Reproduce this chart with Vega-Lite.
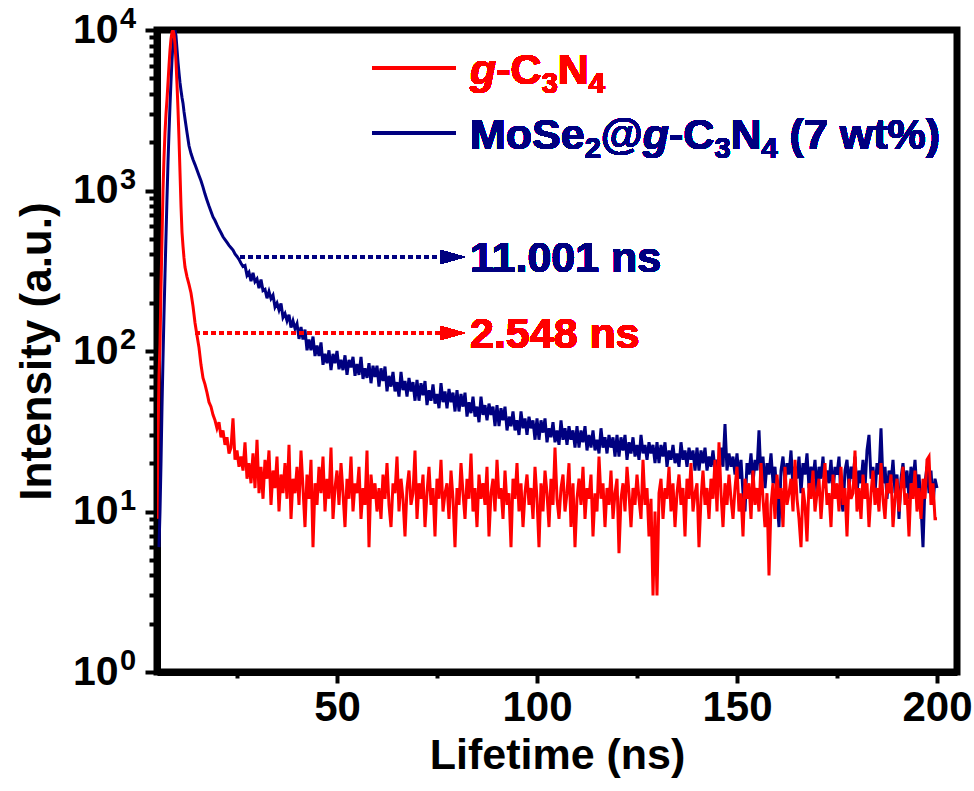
{
"$schema":"https://vega.github.io/schema/vega-lite/v6.json",
"width":800,"height":642,
"autosize":{"type":"none"},
"padding":{"left":157,"top":30,"right":17,"bottom":119},
"background":"white",
"view":{"stroke":"black","strokeWidth":7},
"config":{"font":"Liberation Sans"},
"resolve":{"axis":{"x":"independent","y":"independent"}},
"data":{"values":[
{"t":5,"gcn":9},{"t":5.25,"gcn":30},{"t":5.5,"gcn":70,"mos":6},{"t":5.75,"gcn":110,"mos":10},{"t":6,"gcn":250,"mos":20},{"t":6.25,"gcn":500,"mos":45},{"t":6.5,"gcn":1000,"mos":90},{"t":6.75,"gcn":1600,"mos":170},{"t":7,"gcn":2300,"mos":300},{"t":7.25,"gcn":3000,"mos":520},{"t":7.5,"gcn":3700,"mos":900},{"t":7.75,"gcn":4700,"mos":1500},{"t":8,"gcn":6000,"mos":2300},{"t":8.25,"gcn":7500,"mos":3400},{"t":8.5,"gcn":8800,"mos":4800},{"t":8.75,"gcn":9700,"mos":6500},{"t":9,"gcn":10000,"mos":8300},{"t":9.25,"gcn":9400,"mos":9600},{"t":9.5,"gcn":8200,"mos":10000},{"t":9.75,"gcn":6300,"mos":9200},{"t":10,"gcn":4600,"mos":7600},{"t":10.25,"gcn":3200,"mos":6300},{"t":10.5,"gcn":2100,"mos":5400},{"t":10.75,"gcn":1300,"mos":4700},{"t":11,"gcn":800,"mos":4200},{"t":11.25,"gcn":550,"mos":3800},{"t":11.5,"gcn":450,"mos":3500},{"t":11.75,"gcn":380,"mos":3100},{"t":12,"gcn":333,"mos":2800},
{"t":12.5,"gcn":290,"mos":2300},{"t":13,"gcn":260,"mos":1900},{"t":13.5,"gcn":230,"mos":1700},{"t":14,"gcn":190,"mos":1560},{"t":14.5,"gcn":150,"mos":1450},{"t":15,"gcn":125,"mos":1340},{"t":15.5,"gcn":105,"mos":1240},{"t":16,"gcn":82,"mos":1150},{"t":16.5,"gcn":68,"mos":1050},{"t":17,"gcn":62,"mos":950},{"t":17.5,"gcn":55,"mos":870},{"t":18,"gcn":48,"mos":800},{"t":18.5,"gcn":45,"mos":740},{"t":19,"gcn":40,"mos":684},{"t":19.5,"gcn":37,"mos":650},{"t":20,"gcn":33,"mos":610},{"t":20.5,"gcn":36,"mos":575},{"t":21,"gcn":29,"mos":545},{"t":21.5,"gcn":32,"mos":515},{"t":22,"gcn":26,"mos":495},{"t":22.5,"gcn":29,"mos":475},{"t":23,"gcn":23,"mos":455},{"t":23.5,"gcn":25,"mos":440},{"t":24,"gcn":38,"mos":425},{"t":24.5,"gcn":21,"mos":402},{"t":25,"gcn":24,"mos":388},{"t":25.5,"gcn":19,"mos":372},{"t":26,"gcn":22,"mos":352},
{"t":26.5,"gcn":18,"mos":336},{"t":27,"gcn":27,"mos":341},{"t":27.5,"gcn":16,"mos":296},{"t":28,"gcn":20,"mos":309},{"t":28.5,"gcn":15,"mos":272},{"t":29,"gcn":23,"mos":307},{"t":29.5,"gcn":14,"mos":270},{"t":30,"gcn":28,"mos":281},{"t":30.5,"gcn":13,"mos":246},{"t":31,"gcn":19,"mos":279},{"t":31.5,"gcn":12,"mos":238},{"t":32,"gcn":21,"mos":242},{"t":32.5,"gcn":16,"mos":213},{"t":33,"gcn":24,"mos":235},{"t":33.5,"gcn":11,"mos":212},{"t":34,"gcn":18,"mos":223},{"t":34.5,"gcn":14,"mos":188},{"t":35,"gcn":22,"mos":199},{"t":35.5,"gcn":10,"mos":180},{"t":36,"gcn":17,"mos":198},{"t":36.5,"gcn":13,"mos":162},{"t":37,"gcn":20,"mos":171},{"t":37.5,"gcn":12,"mos":154},{"t":38,"gcn":26,"mos":168},{"t":38.5,"gcn":9,"mos":140},{"t":39,"gcn":16,"mos":154},{"t":39.5,"gcn":13,"mos":138},{"t":40,"gcn":19,"mos":148},
{"t":40.5,"gcn":11,"mos":119},{"t":41,"gcn":24,"mos":141},{"t":41.5,"gcn":14,"mos":118},{"t":42,"gcn":8,"mos":136},{"t":42.5,"gcn":17,"mos":101},{"t":43,"gcn":12,"mos":118},{"t":43.5,"gcn":21,"mos":101},{"t":44,"gcn":6,"mos":123},{"t":44.5,"gcn":15,"mos":93},{"t":45,"gcn":11,"mos":108},{"t":45.5,"gcn":19,"mos":93},{"t":46,"gcn":13,"mos":113},{"t":46.5,"gcn":22,"mos":82},{"t":47,"gcn":10,"mos":96},{"t":47.5,"gcn":16,"mos":84},{"t":48,"gcn":12,"mos":101},{"t":48.5,"gcn":25,"mos":76},{"t":49,"gcn":9,"mos":96},{"t":49.5,"gcn":14,"mos":84},{"t":50,"gcn":18,"mos":100},
{"t":50.5,"gcn":11,"mos":77},{"t":51,"gcn":20,"mos":88},{"t":51.5,"gcn":13,"mos":76},{"t":52,"gcn":8,"mos":94},{"t":52.5,"gcn":16,"mos":71},{"t":53,"gcn":12,"mos":88},{"t":53.5,"gcn":22,"mos":79},{"t":54,"gcn":10,"mos":92},{"t":54.5,"gcn":15,"mos":70},{"t":55,"gcn":13,"mos":83},{"t":55.5,"gcn":19,"mos":71},{"t":56,"gcn":9,"mos":92},{"t":56.5,"gcn":14,"mos":67},{"t":57,"gcn":11,"mos":78},{"t":57.5,"gcn":24,"mos":68},{"t":58,"gcn":6,"mos":84},{"t":58.5,"gcn":17,"mos":63},{"t":59,"gcn":12,"mos":81},{"t":59.5,"gcn":15,"mos":69},{"t":60,"gcn":10,"mos":81},
{"t":60.5,"gcn":14,"mos":60},{"t":61,"gcn":9,"mos":78},{"t":61.5,"gcn":17,"mos":65},{"t":62,"gcn":12,"mos":80},{"t":62.5,"gcn":20,"mos":56},{"t":63,"gcn":11,"mos":70},{"t":63.5,"gcn":8,"mos":60},{"t":64,"gcn":15,"mos":74},{"t":64.5,"gcn":13,"mos":56},{"t":65,"gcn":22,"mos":64},{"t":65.5,"gcn":10,"mos":52},{"t":66,"gcn":16,"mos":74},{"t":66.5,"gcn":12,"mos":57},{"t":67,"gcn":7,"mos":65},{"t":67.5,"gcn":14,"mos":52},{"t":68,"gcn":18,"mos":68},{"t":68.5,"gcn":11,"mos":56},{"t":69,"gcn":13,"mos":64},{"t":69.5,"gcn":24,"mos":49},{"t":70,"gcn":9,"mos":66},
{"t":70.5,"gcn":15,"mos":49},{"t":71,"gcn":12,"mos":63},{"t":71.5,"gcn":17,"mos":53},{"t":72,"gcn":8,"mos":65},{"t":72.5,"gcn":13,"mos":46},{"t":73,"gcn":19,"mos":57},{"t":73.5,"gcn":11,"mos":49},{"t":74,"gcn":14,"mos":62},{"t":74.5,"gcn":7,"mos":47},{"t":75,"gcn":16,"mos":54},{"t":75.5,"gcn":12,"mos":44},{"t":76,"gcn":21,"mos":63},{"t":76.5,"gcn":10,"mos":48},{"t":77,"gcn":13,"mos":56},{"t":77.5,"gcn":15,"mos":44},{"t":78,"gcn":9,"mos":58},{"t":78.5,"gcn":18,"mos":48},{"t":79,"gcn":12,"mos":55},{"t":79.5,"gcn":6,"mos":42},{"t":80,"gcn":14,"mos":57},
{"t":80.5,"gcn":11,"mos":42},{"t":81,"gcn":20,"mos":54},{"t":81.5,"gcn":13,"mos":45},{"t":82,"gcn":9,"mos":55},{"t":82.5,"gcn":16,"mos":39},{"t":83,"gcn":12,"mos":48},{"t":83.5,"gcn":23,"mos":41},{"t":84,"gcn":10,"mos":52},{"t":84.5,"gcn":14,"mos":39},{"t":85,"gcn":8,"mos":45},{"t":85.5,"gcn":17,"mos":36},{"t":86,"gcn":12,"mos":52},{"t":86.5,"gcn":15,"mos":40},{"t":87,"gcn":11,"mos":46},{"t":87.5,"gcn":19,"mos":37},{"t":88,"gcn":7,"mos":47},{"t":88.5,"gcn":13,"mos":40},{"t":89,"gcn":16,"mos":45},{"t":89.5,"gcn":10,"mos":34},{"t":90,"gcn":21,"mos":46},
{"t":90.5,"gcn":12,"mos":34},{"t":91,"gcn":14,"mos":44},{"t":91.5,"gcn":9,"mos":37},{"t":92,"gcn":18,"mos":45},{"t":92.5,"gcn":11,"mos":32},{"t":93,"gcn":13,"mos":39},{"t":93.5,"gcn":6,"mos":34},{"t":94,"gcn":16,"mos":42},{"t":94.5,"gcn":12,"mos":32},{"t":95,"gcn":20,"mos":37},{"t":95.5,"gcn":10,"mos":30},{"t":96,"gcn":15,"mos":42},{"t":96.5,"gcn":8,"mos":33},{"t":97,"gcn":13,"mos":38},{"t":97.5,"gcn":17,"mos":30},{"t":98,"gcn":11,"mos":39},{"t":98.5,"gcn":14,"mos":33},{"t":99,"gcn":9,"mos":37},{"t":99.5,"gcn":19,"mos":28},{"t":100,"gcn":12,"mos":38},
{"t":100.5,"gcn":6,"mos":28},{"t":101,"gcn":15,"mos":37},{"t":101.5,"gcn":10,"mos":31},{"t":102,"gcn":18,"mos":38},{"t":102.5,"gcn":13,"mos":27},{"t":103,"gcn":8,"mos":33},{"t":103.5,"gcn":16,"mos":29},{"t":104,"gcn":11,"mos":36},{"t":104.5,"gcn":25,"mos":27},{"t":105,"gcn":12,"mos":32},{"t":105.5,"gcn":9,"mos":26},{"t":106,"gcn":14,"mos":37},{"t":106.5,"gcn":17,"mos":28},{"t":107,"gcn":10,"mos":33},{"t":107.5,"gcn":13,"mos":26},{"t":108,"gcn":20,"mos":34},{"t":108.5,"gcn":8,"mos":28},{"t":109,"gcn":15,"mos":32},{"t":109.5,"gcn":6,"mos":25},{"t":110,"gcn":12,"mos":34},
{"t":110.5,"gcn":16,"mos":25},{"t":111,"gcn":11,"mos":32},{"t":111.5,"gcn":19,"mos":27},{"t":112,"gcn":9,"mos":34},{"t":112.5,"gcn":14,"mos":24},{"t":113,"gcn":12,"mos":30},{"t":113.5,"gcn":17,"mos":25},{"t":114,"gcn":7,"mos":32},{"t":114.5,"gcn":13,"mos":24},{"t":115,"gcn":10,"mos":28},{"t":115.5,"gcn":22,"mos":23},{"t":116,"gcn":12,"mos":33},{"t":116.5,"gcn":15,"mos":25},{"t":117,"gcn":8,"mos":29},{"t":117.5,"gcn":14,"mos":23},{"t":118,"gcn":11,"mos":30},{"t":118.5,"gcn":18,"mos":25},{"t":119,"gcn":9,"mos":29},{"t":119.5,"gcn":13,"mos":22},{"t":120,"gcn":16,"mos":30},
{"t":120.5,"gcn":5.5,"mos":22},{"t":121,"gcn":12,"mos":29},{"t":121.5,"gcn":15,"mos":24},{"t":122,"gcn":10,"mos":30},{"t":122.5,"gcn":19,"mos":21},{"t":123,"gcn":13,"mos":27},{"t":123.5,"gcn":8,"mos":23},{"t":124,"gcn":14,"mos":29},{"t":124.5,"gcn":11,"mos":22},{"t":125,"gcn":17,"mos":26},{"t":125.5,"gcn":12,"mos":21},{"t":126,"gcn":9,"mos":30},{"t":126.5,"gcn":21,"mos":23},{"t":127,"gcn":11,"mos":26},{"t":127.5,"gcn":14,"mos":21},{"t":128,"gcn":7,"mos":27},{"t":128.5,"gcn":12,"mos":23},{"t":129,"gcn":3,"mos":26},{"t":129.5,"gcn":10,"mos":20},{"t":130,"gcn":3,"mos":27},
{"t":130.5,"gcn":13,"mos":20},{"t":131,"gcn":16,"mos":26},{"t":131.5,"gcn":9,"mos":22},{"t":132,"gcn":14,"mos":27},{"t":132.5,"gcn":12,"mos":19},{"t":133,"gcn":19,"mos":24},{"t":133.5,"gcn":10,"mos":21},{"t":134,"gcn":15,"mos":26},{"t":134.5,"gcn":8,"mos":20},{"t":135,"gcn":13,"mos":23},{"t":135.5,"gcn":17,"mos":19},{"t":136,"gcn":11,"mos":27},{"t":136.5,"gcn":14,"mos":21},{"t":137,"gcn":7,"mos":24},{"t":137.5,"gcn":16,"mos":19},{"t":138,"gcn":12,"mos":25},{"t":138.5,"gcn":20,"mos":21},{"t":139,"gcn":10,"mos":24},{"t":139.5,"gcn":13,"mos":18},{"t":140,"gcn":15,"mos":25},
{"t":140.5,"gcn":6,"mos":18},{"t":141,"gcn":12,"mos":24},{"t":141.5,"gcn":18,"mos":20},{"t":142,"gcn":11,"mos":25},{"t":142.5,"gcn":14,"mos":18},{"t":143,"gcn":9,"mos":22},{"t":143.5,"gcn":16,"mos":19},{"t":144,"gcn":12,"mos":24},{"t":144.5,"gcn":21,"mos":18},{"t":145,"gcn":10,"mos":21},{"t":145.5,"gcn":27,"mos":17},{"t":146,"gcn":13,"mos":25},{"t":146.5,"gcn":8,"mos":19},{"t":147,"gcn":15,"mos":35},{"t":147.5,"gcn":11,"mos":18},{"t":148,"gcn":17,"mos":23},{"t":148.5,"gcn":12,"mos":19},{"t":149,"gcn":9,"mos":22},{"t":149.5,"gcn":14,"mos":17},{"t":150,"gcn":19,"mos":23},
{"t":150.5,"gcn":10,"mos":16},{"t":151,"gcn":13,"mos":21},{"t":151.5,"gcn":7,"mos":13},{"t":152,"gcn":16,"mos":10},{"t":152.5,"gcn":12,"mos":20},{"t":153,"gcn":15,"mos":17},{"t":153.5,"gcn":9,"mos":23},{"t":154,"gcn":18,"mos":15},{"t":154.5,"gcn":11,"mos":21},{"t":155,"gcn":14,"mos":18},{"t":155.5,"gcn":10,"mos":32},{"t":156,"gcn":20,"mos":16},{"t":156.5,"gcn":12,"mos":22},{"t":157,"gcn":8,"mos":14},{"t":157.5,"gcn":13,"mos":20},{"t":158,"gcn":4,"mos":17},{"t":158.5,"gcn":11,"mos":23},{"t":159,"gcn":15,"mos":15},{"t":159.5,"gcn":9,"mos":19},{"t":160,"gcn":17,"mos":12},
{"t":160.5,"gcn":12,"mos":8},{"t":161,"gcn":14,"mos":18},{"t":161.5,"gcn":8,"mos":22},{"t":162,"gcn":19,"mos":15},{"t":162.5,"gcn":11,"mos":20},{"t":163,"gcn":13,"mos":17},{"t":163.5,"gcn":16,"mos":24},{"t":164,"gcn":10,"mos":14},{"t":164.5,"gcn":21,"mos":19},{"t":165,"gcn":12,"mos":16},{"t":165.5,"gcn":9,"mos":22},{"t":166,"gcn":6,"mos":13},{"t":166.5,"gcn":14,"mos":20},{"t":167,"gcn":11,"mos":17},{"t":167.5,"gcn":6.5,"mos":23},{"t":168,"gcn":15,"mos":14},{"t":168.5,"gcn":12,"mos":19},{"t":169,"gcn":18,"mos":16},{"t":169.5,"gcn":10,"mos":21},{"t":170,"gcn":13,"mos":13},
{"t":170.5,"gcn":16,"mos":19},{"t":171,"gcn":9,"mos":16},{"t":171.5,"gcn":14,"mos":22},{"t":172,"gcn":20,"mos":14},{"t":172.5,"gcn":11,"mos":18},{"t":173,"gcn":13,"mos":15},{"t":173.5,"gcn":8,"mos":21},{"t":174,"gcn":17,"mos":13},{"t":174.5,"gcn":12,"mos":19},{"t":175,"gcn":15,"mos":17},{"t":175.5,"gcn":10,"mos":22},{"t":176,"gcn":19,"mos":12},{"t":176.5,"gcn":11,"mos":10},{"t":177,"gcn":14,"mos":18},{"t":177.5,"gcn":7,"mos":21},{"t":178,"gcn":16,"mos":14},{"t":178.5,"gcn":12,"mos":19},{"t":179,"gcn":13,"mos":16},{"t":179.5,"gcn":24,"mos":22},{"t":180,"gcn":10,"mos":13},
{"t":180.5,"gcn":14,"mos":18},{"t":181,"gcn":9,"mos":15},{"t":181.5,"gcn":17,"mos":21},{"t":182,"gcn":12,"mos":14},{"t":182.5,"gcn":15,"mos":24},{"t":183,"gcn":8,"mos":30},{"t":183.5,"gcn":13,"mos":16},{"t":184,"gcn":18,"mos":19},{"t":184.5,"gcn":11,"mos":13},{"t":185,"gcn":14,"mos":20},{"t":185.5,"gcn":10,"mos":17},{"t":186,"gcn":20,"mos":33},{"t":186.5,"gcn":12,"mos":15},{"t":187,"gcn":9,"mos":19},{"t":187.5,"gcn":15,"mos":12},{"t":188,"gcn":13,"mos":18},{"t":188.5,"gcn":17,"mos":15},{"t":189,"gcn":8,"mos":21},{"t":189.5,"gcn":12,"mos":13},{"t":190,"gcn":16,"mos":17},
{"t":190.5,"gcn":10,"mos":9},{"t":191,"gcn":14,"mos":16},{"t":191.5,"gcn":19,"mos":20},{"t":192,"gcn":11,"mos":14},{"t":192.5,"gcn":13,"mos":18},{"t":193,"gcn":7,"mos":12},{"t":193.5,"gcn":15,"mos":19},{"t":194,"gcn":12,"mos":15},{"t":194.5,"gcn":18,"mos":21},{"t":195,"gcn":10,"mos":13},{"t":195.5,"gcn":14,"mos":17},{"t":196,"gcn":9,"mos":11},{"t":196.5,"gcn":16,"mos":6},{"t":197,"gcn":12,"mos":15},{"t":197.5,"gcn":21,"mos":19},{"t":198,"gcn":22,"mos":13},{"t":198.5,"gcn":11,"mos":18},{"t":199,"gcn":15,"mos":11},{"t":199.5,"gcn":9,"mos":16},{"t":200,"gcn":9,"mos":14}
]},
"layer":[
{"mark":{"type":"line","color":"#000080","strokeWidth":3,"clip":true},
 "encoding":{
  "x":{"field":"t","type":"quantitative","scale":{"domain":[5,205],"nice":false,"zero":false},
   "axis":{"orient":"bottom","values":[50,100,150,200],"tickSize":11,"tickWidth":4,"tickColor":"black",
    "domainColor":"black","domainWidth":7,"grid":false,"labelFont":"Liberation Sans","labelFontWeight":"bold","labelFontSize":42,"labelColor":"black","labelPadding":4,"labelFlush":false,"labelOverlap":false,
    "title":"Lifetime (ns)","titleFont":"Liberation Sans","titleFontWeight":"bold","titleFontSize":43,"titleColor":"black","titlePadding":6}},
  "y":{"field":"mos","type":"quantitative","scale":{"type":"log","domain":[1,10000],"nice":false},
   "axis":{"orient":"left","values":[1,10,100,1000,10000],"labelExpr":"'10'","tickSize":12,"tickWidth":4,"tickColor":"black",
    "domainColor":"black","domainWidth":7,"grid":false,"labelFont":"Liberation Sans","labelFontWeight":"bold","labelFontSize":41,"labelColor":"black","labelPadding":27,"labelOverlap":false,"labelBound":false,"labelFlush":false,
    "title":"Intensity (a.u.)","titleFont":"Liberation Sans","titleFontWeight":"bold","titleFontSize":44,"titleColor":"black","titlePadding":13}}
 }},
{"mark":{"type":"line","color":"#ff0000","strokeWidth":3,"clip":true},
 "encoding":{
  "x":{"field":"t","type":"quantitative","axis":{"orient":"bottom","values":[25,75,125,175],"tickSize":6,"tickWidth":4,"tickColor":"black","domain":false,"labels":false,"grid":false,"title":null}},
  "y":{"field":"gcn","type":"quantitative","axis":{"orient":"left","values":[2,3,4,5,6,7,8,9,20,30,40,50,60,70,80,90,200,300,400,500,600,700,800,900,2000,3000,4000,5000,6000,7000,8000,9000],"tickSize":8,"tickWidth":4,"tickColor":"black","domain":false,"labels":false,"grid":false,"title":null}}}},
{"data":{"values":[{"v":1,"e":"0"},{"v":10,"e":"1"},{"v":100,"e":"2"},{"v":1000,"e":"3"},{"v":10000,"e":"4"}]},
 "mark":{"type":"text","font":"Liberation Sans","fontWeight":"bold","fontSize":29,"color":"black","align":"left","baseline":"alphabetic","dx":-37,"dy":-2,"clip":false},
 "encoding":{"x":{"datum":5,"axis":null},"y":{"field":"v","type":"quantitative","axis":null},"text":{"field":"e"}}},
{"mark":{"type":"rule","color":"#ff0000","strokeWidth":3.5},
 "encoding":{"x":{"datum":58.75,"axis":null},"x2":{"datum":79.75},"y":{"datum":5797,"axis":null}}},
{"mark":{"type":"rule","color":"#000080","strokeWidth":3.5},
 "encoding":{"x":{"datum":58.75,"axis":null},"x2":{"datum":79.75},"y":{"datum":2282,"axis":null}}},
{"mark":{"type":"rule","color":"#000080","strokeWidth":4,"strokeDash":[5,3]},
 "encoding":{"x":{"datum":25.75,"axis":null},"x2":{"datum":75.75},"y":{"datum":385.5,"axis":null}}},
{"mark":{"type":"rule","color":"#ff0000","strokeWidth":4,"strokeDash":[5,3]},
 "encoding":{"x":{"datum":14.5,"axis":null},"x2":{"datum":75.75},"y":{"datum":129.5,"axis":null}}},
{"mark":{"type":"point","shape":"M -1 -0.56 L 1 0 L -1 0.56 Z","size":625,"filled":true,"opacity":1,"color":"#000080"},
 "encoding":{"x":{"datum":78.9,"axis":null},"y":{"datum":385.5,"axis":null}}},
{"mark":{"type":"point","shape":"M -1 -0.56 L 1 0 L -1 0.56 Z","size":625,"filled":true,"opacity":1,"color":"#ff0000"},
 "encoding":{"x":{"datum":78.9,"axis":null},"y":{"datum":129.5,"axis":null}}},
{"mark":{"type":"text","text":"11.001 ns","font":"Liberation Sans","fontWeight":"bold","fontSize":43,"color":"#000080","align":"left","baseline":"alphabetic"},
 "encoding":{"x":{"datum":83.25,"axis":null},"y":{"datum":310.6,"axis":null}}},
{"mark":{"type":"text","text":"2.548 ns","font":"Liberation Sans","fontWeight":"bold","fontSize":43,"color":"#ff0000","align":"left","baseline":"alphabetic"},
 "encoding":{"x":{"datum":83.25,"axis":null},"y":{"datum":104.4,"axis":null}}},
{"mark":{"type":"text","text":"g","font":"Liberation Sans","fontWeight":"bold","fontStyle":"italic","fontSize":43,"color":"#ff0000","align":"left","baseline":"alphabetic","dx":0},
 "encoding":{"x":{"datum":83.25,"axis":null},"y":{"datum":4610,"axis":null}}},
{"mark":{"type":"text","text":"-C","font":"Liberation Sans","fontWeight":"bold","fontSize":43,"color":"#ff0000","align":"left","baseline":"alphabetic","dx":26.3},
 "encoding":{"x":{"datum":83.25,"axis":null},"y":{"datum":4610,"axis":null}}},
{"mark":{"type":"text","text":"3","font":"Liberation Sans","fontWeight":"bold","fontSize":29,"color":"#ff0000","align":"left","baseline":"alphabetic","dx":71.7,"dy":9},
 "encoding":{"x":{"datum":83.25,"axis":null},"y":{"datum":4610,"axis":null}}},
{"mark":{"type":"text","text":"N","font":"Liberation Sans","fontWeight":"bold","fontSize":43,"color":"#ff0000","align":"left","baseline":"alphabetic","dx":87.8},
 "encoding":{"x":{"datum":83.25,"axis":null},"y":{"datum":4610,"axis":null}}},
{"mark":{"type":"text","text":"4","font":"Liberation Sans","fontWeight":"bold","fontSize":29,"color":"#ff0000","align":"left","baseline":"alphabetic","dx":118.8,"dy":9},
 "encoding":{"x":{"datum":83.25,"axis":null},"y":{"datum":4610,"axis":null}}},
{"mark":{"type":"text","text":"MoSe","font":"Liberation Sans","fontWeight":"bold","fontSize":43,"color":"#000080","align":"left","baseline":"alphabetic","dx":0},
 "encoding":{"x":{"datum":83.25,"axis":null},"y":{"datum":1814,"axis":null}}},
{"mark":{"type":"text","text":"2","font":"Liberation Sans","fontWeight":"bold","fontSize":29,"color":"#000080","align":"left","baseline":"alphabetic","dx":114.7,"dy":9},
 "encoding":{"x":{"datum":83.25,"axis":null},"y":{"datum":1814,"axis":null}}},
{"mark":{"type":"text","text":"@","font":"Liberation Sans","fontWeight":"bold","fontSize":43,"color":"#000080","align":"left","baseline":"alphabetic","dx":130.8},
 "encoding":{"x":{"datum":83.25,"axis":null},"y":{"datum":1814,"axis":null}}},
{"mark":{"type":"text","text":"g","font":"Liberation Sans","fontWeight":"bold","fontStyle":"italic","fontSize":43,"color":"#000080","align":"left","baseline":"alphabetic","dx":172.7},
 "encoding":{"x":{"datum":83.25,"axis":null},"y":{"datum":1814,"axis":null}}},
{"mark":{"type":"text","text":"-C","font":"Liberation Sans","fontWeight":"bold","fontSize":43,"color":"#000080","align":"left","baseline":"alphabetic","dx":199.0},
 "encoding":{"x":{"datum":83.25,"axis":null},"y":{"datum":1814,"axis":null}}},
{"mark":{"type":"text","text":"3","font":"Liberation Sans","fontWeight":"bold","fontSize":29,"color":"#000080","align":"left","baseline":"alphabetic","dx":244.4,"dy":9},
 "encoding":{"x":{"datum":83.25,"axis":null},"y":{"datum":1814,"axis":null}}},
{"mark":{"type":"text","text":"N","font":"Liberation Sans","fontWeight":"bold","fontSize":43,"color":"#000080","align":"left","baseline":"alphabetic","dx":260.5},
 "encoding":{"x":{"datum":83.25,"axis":null},"y":{"datum":1814,"axis":null}}},
{"mark":{"type":"text","text":"4","font":"Liberation Sans","fontWeight":"bold","fontSize":29,"color":"#000080","align":"left","baseline":"alphabetic","dx":291.5,"dy":9},
 "encoding":{"x":{"datum":83.25,"axis":null},"y":{"datum":1814,"axis":null}}},
{"mark":{"type":"text","text":"(7 wt%)","font":"Liberation Sans","fontWeight":"bold","fontSize":43,"color":"#000080","align":"left","baseline":"alphabetic","dx":319.6},
 "encoding":{"x":{"datum":83.25,"axis":null},"y":{"datum":1814,"axis":null}}}
]
}
